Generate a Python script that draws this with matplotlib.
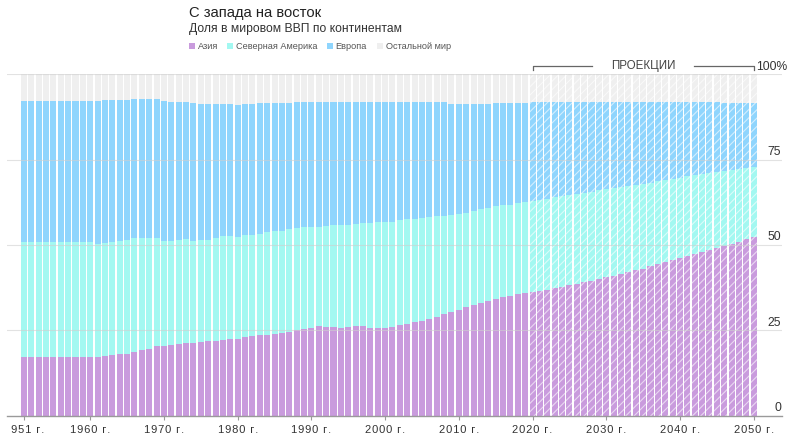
import matplotlib
matplotlib.use("Agg")
import matplotlib.pyplot as plt
from matplotlib.patches import Rectangle
from matplotlib.transforms import Bbox, blended_transform_factory
import numpy as np

plt.rcParams['font.family'] = ['Liberation Sans', 'DejaVu Sans']
plt.rcParams['hatch.linewidth'] = 0.8

W, H = 791, 445

years = list(range(1951, 2051))
first_projection = 2020

# upper edge of each band, % of world GDP (cumulative)
asia_top = [
    17.1, 17.1, 17.1, 17.1, 17.1, 17.1, 17.1, 17.1, 17.1, 17.1,
    17.25, 17.35, 17.65, 18.1, 18.15, 18.5, 19.1, 19.6, 20.3, 20.5,
    20.7, 21.0, 21.25, 21.3, 21.65, 21.75, 21.95, 22.15, 22.35, 22.55,
    22.95, 23.35, 23.55, 23.65, 23.8, 24.1, 24.4, 25.0, 25.2, 25.6,
    26.1, 25.9, 25.9, 25.6, 26.0, 26.3, 26.2, 25.5, 25.5, 25.6,
    25.9, 26.4, 26.9, 27.35, 27.75, 28.25, 28.9, 29.6, 30.3, 31.0,
    31.7, 32.45, 33.1, 33.5, 34.0, 34.6, 35.1, 35.6, 36.0, 36.1,
    36.4, 36.8, 37.25, 37.65, 38.15, 38.6, 39.0, 39.5, 40.0, 40.5,
    41.0, 41.55, 42.1, 42.55, 43.05, 43.7, 44.3, 44.9, 45.55, 46.1,
    46.7, 47.3, 47.9, 48.5, 49.1, 49.7, 50.3, 50.9, 51.6, 52.4,
]
america_top = [
    50.8, 50.8, 50.8, 50.9, 50.9, 50.8, 50.8, 50.8, 50.9, 50.9,
    50.3, 50.5, 50.9, 51.2, 51.45, 52.05, 52.05, 52.15, 52.15, 51.25,
    51.25, 51.45, 51.65, 51.1, 51.45, 51.55, 51.95, 52.45, 52.45, 52.25,
    52.95, 52.75, 53.25, 53.9, 54.2, 54.2, 54.5, 54.8, 55.1, 55.2,
    55.3, 55.5, 55.7, 55.7, 55.8, 56.2, 56.3, 56.3, 56.55, 56.75,
    56.75, 57.2, 57.55, 57.65, 57.75, 58.15, 58.45, 58.55, 58.75, 59.0,
    59.4, 60.0, 60.5, 60.8, 61.25, 61.55, 61.75, 62.15, 62.45, 62.75,
    63.25, 63.55, 63.9, 64.3, 64.6, 64.9, 65.3, 65.6, 66.0, 66.3,
    66.6, 66.95, 67.25, 67.65, 67.95, 68.25, 68.6, 69.0, 69.3, 69.7,
    70.1, 70.4, 70.8, 71.1, 71.45, 71.75, 72.05, 72.35, 72.55, 72.85,
]
europe_top = [
    92.25, 92.25, 92.25, 92.25, 92.25, 92.25, 92.25, 92.25, 92.25, 92.25,
    92.15, 92.35, 92.55, 92.55, 92.55, 92.75, 92.85, 92.85, 92.75, 92.25,
    91.95, 91.95, 91.85, 91.5, 91.4, 91.4, 91.4, 91.4, 91.35, 91.0,
    91.35, 91.35, 91.65, 91.65, 91.6, 91.55, 91.6, 91.85, 91.9, 91.9,
    91.85, 91.75, 91.75, 91.75, 91.75, 91.8, 91.85, 91.85, 91.95, 91.95,
    91.95, 91.95, 91.95, 91.75, 91.75, 91.75, 91.75, 91.75, 91.3, 91.3,
    91.3, 91.3, 91.3, 91.3, 91.65, 91.65, 91.65, 91.65, 91.65, 91.95,
    91.95, 91.95, 91.9, 91.9, 91.9, 91.9, 91.9, 91.9, 91.9, 91.9,
    91.9, 91.85, 91.85, 91.85, 91.85, 91.8, 91.8, 91.8, 91.8, 91.8,
    91.75, 91.75, 91.75, 91.75, 91.75, 91.7, 91.7, 91.7, 91.7, 91.7,
]

labels = ["Азия", "Северная Америка", "Европа", "Остальной мир"]
colors = ["#c99bdd", "#a3f8f1", "#8fd5fd", "#efefef"]

x_ticks = [1951, 1960, 1970, 1980, 1990, 2000, 2010, 2020, 2030, 2040, 2050]
y_ticks = [0, 25, 50, 75, 100]


def fx(px):
    return px / W


def fy(py):
    return 1 - py / H


def spaced(s):
    # imitate the letter spacing of the original axis labels
    return "\u200a".join(s)


figure = plt.figure(figsize=(W / 100, H / 100), dpi=100)
ax = figure.add_axes([fx(7.3), fy(415.5), fx(781.7) - fx(7.3),
                      fy(74.2) - fy(415.5)])

yrs = np.array(years)
proj = yrs >= first_projection
tops = [np.array(asia_top), np.array(america_top), np.array(europe_top),
        np.full(len(years), 100.0)]
bottoms = [np.zeros(len(years))] + tops[:-1]

for top, bottom, color in zip(tops, bottoms, colors):
    height = top - bottom
    ax.bar(yrs[~proj], height[~proj], bottom=bottom[~proj], width=0.82,
           color=color, linewidth=0, zorder=2)
    # projected years: same colours with a light diagonal hatch
    ax.bar(yrs[proj], height[proj], bottom=bottom[proj], width=0.82,
           facecolor=color, edgecolor=(1, 1, 1, 0.6), linewidth=0,
           hatch='////', zorder=2)

# faint grid lines drawn over the bars
for v in y_ticks[1:]:
    ax.axhline(v, color='#cfcfcf', linewidth=0.8, alpha=0.6, zorder=3)

ax.set_xlim(1948.75, 2053.8)
ax.set_ylim(0, 100)
for side in ('left', 'right', 'top'):
    ax.spines[side].set_visible(False)
ax.spines['bottom'].set_color('#9a9a9a')
ax.spines['bottom'].set_linewidth(1)
ax.spines['bottom'].set_zorder(4)
ax.set_yticks([])
ax.set_xticks(x_ticks, [spaced(str(y) + " г.") for y in x_ticks])
ax.tick_params(axis='x', length=3, width=0.8, color='#9a9a9a', pad=3.5,
               labelsize=8, labelcolor='#333333')
# the first label is cut at the left edge in the original
for lbl in ax.get_xticklabels():
    lbl.set_clip_box(Bbox.from_extents(9.5, 0, W, H))
    lbl.set_clip_on(True)

# value labels on the right, sitting just above each grid line
px_per_unit = (415.5 - 74.2) / 100
right_trans = blended_transform_factory(figure.transFigure, ax.transData)
for v in y_ticks:
    text = "100%" if v == 100 else str(v)
    xr = 787 if v == 100 else 781
    ax.text(fx(xr), v + 4.5 / px_per_unit, text, ha='right', va='baseline',
            fontsize=8.7, color='#333333', transform=right_trans,
            clip_on=False)

# projections bracket
by = (415.5 - 66) / px_per_unit
bt = (415.5 - 70) / px_per_unit
kw = dict(color='#666666', linewidth=0.9, clip_on=False, zorder=5)
ax.plot([2020, 2020, 2028.1], [bt, by, by], **kw)
ax.plot([2041.9, 2050, 2050], [by, by, bt], **kw)
ax.text(2035, (415.5 - 69) / px_per_unit, "ПРОЕКЦИИ", ha='center',
        va='baseline', fontsize=8.3, color='#444444', clip_on=False)

# title, subtitle and legend
figure.text(fx(189), fy(17.5), "С запада на восток", fontsize=10.6,
            color='#222222', va='baseline')
figure.text(fx(189), fy(32.3), "Доля в мировом ВВП по континентам",
            fontsize=8.7, color='#333333', va='baseline')
legend_x = [189.3, 227.0, 326.7, 377.0]
for lx, label, color in zip(legend_x, labels, colors):
    figure.add_artist(Rectangle((fx(lx), fy(48.7)), 6 / W, 6 / H,
                                transform=figure.transFigure, color=color,
                                linewidth=0))
    figure.text(fx(lx + 8.5), fy(49.3), label, fontsize=6.6,
                color='#555555', va='baseline')

figure.savefig("out.png", dpi=100)
plt.close(figure)
